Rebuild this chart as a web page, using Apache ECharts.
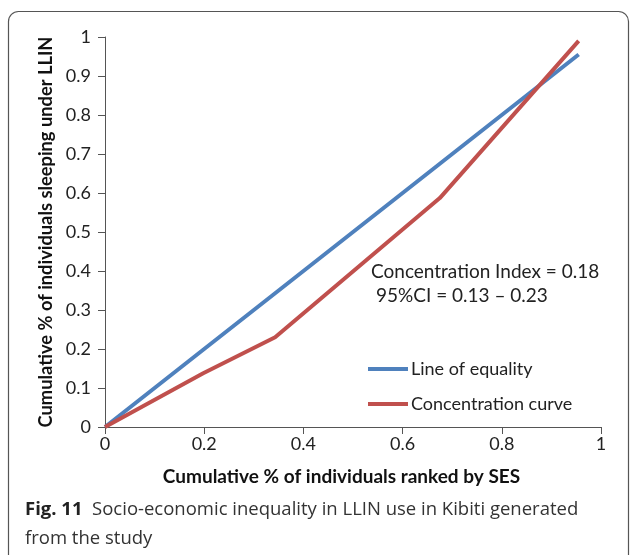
<!DOCTYPE html>
<html><head><meta charset="utf-8">
<script src="https://cdn.jsdelivr.net/npm/echarts@6/dist/echarts.min.js"></script>
<style>html,body{margin:0;padding:0;background:#fff}#c{width:630px;height:555px}</style>
</head><body><div id="c"></div>
<script>
const xShares = [0, 0.198, 0.343, 0.675, 0.955];
const equalityValues = [0, 0.198, 0.343, 0.675, 0.955];
const concentrationValues = [0, 0.138, 0.23, 0.587, 0.99];
const seriesNames = ['Line of equality', 'Concentration curve'];
const xTitle = 'Cumulative % of individuals ranked by SES';
const yTitle = 'Cumulative % of individuals sleeping under LLIN';
const annotation = ['Concentration Index = 0.18', '95%CI = 0.13 \u2013 0.23'];

const F = 'Lato, "Open Sans", sans-serif';
const chart = echarts.init(document.getElementById('c'));
const axisLine = {show: true, lineStyle: {color: '#555', width: 1}};
chart.setOption({
  animation: false,
  grid: {left: 105, right: 29, top: 37, bottom: 128},
  xAxis: {
    type: 'value', min: 0, max: 1, interval: 0.2,
    axisLine, axisTick: {show: true, length: 7, lineStyle: {color: '#555'}},
    splitLine: {show: false},
    axisLabel: {fontFamily: F, fontSize: 18, color: '#222', margin: 8, formatter: v => String(+v.toFixed(1))},
    name: xTitle, nameLocation: 'middle', nameGap: 40,
    nameTextStyle: {fontFamily: F, fontSize: 19, fontWeight: 'bold', color: '#111', padding: [0, 23, 0, 0]}
  },
  yAxis: {
    type: 'value', min: 0, max: 1, interval: 0.1,
    axisLine, axisTick: {show: true, length: 7, lineStyle: {color: '#555'}},
    splitLine: {show: false},
    axisLabel: {fontFamily: F, fontSize: 18, color: '#222', margin: 14, formatter: v => String(+v.toFixed(1))},
    name: yTitle, nameLocation: 'middle', nameGap: 49,
    nameTextStyle: {fontFamily: F, fontSize: 18.3, fontWeight: 'bold', color: '#111'}
  },
  legend: {
    orient: 'vertical', left: 368, top: 360, itemWidth: 40, itemHeight: 4, itemGap: 17,
    icon: 'rect', padding: 0,
    textStyle: {fontFamily: F, fontSize: 18, lineHeight: 18, color: '#222', padding: [0, 0, 0, -2]},
    data: seriesNames
  },
  series: [
    {name: seriesNames[0], type: 'line', data: xShares.map((x, i) => [x, equalityValues[i]]),
     showSymbol: false, lineStyle: {color: '#4F81BD', width: 4}, itemStyle: {color: '#4F81BD'}},
    {name: seriesNames[1], type: 'line', data: xShares.map((x, i) => [x, concentrationValues[i]]),
     showSymbol: false, lineStyle: {color: '#C0504D', width: 4}, itemStyle: {color: '#C0504D'}}
  ],
  graphic: [
    {type: 'rect', shape: {x: 8.5, y: 11.5, width: 620, height: 600, r: 10}, silent: true,
     style: {fill: 'none', stroke: '#555', lineWidth: 1.2}, z: -1},
    {type: 'text', left: 371, top: 262, style: {text: annotation[0], font: '19px ' + F, fill: '#222'}},
    {type: 'text', left: 376, top: 286, style: {text: annotation[1], font: '19px ' + F, fill: '#222'}},
    {type: 'text', left: 25, top: 495, style: {
      text: '{b|Fig. 11}  Socio-economic inequality in LLIN use in Kibiti generated\nfrom the study',
      font: '18.5px "Open Sans", sans-serif', fill: '#333', lineHeight: 29,
      rich: {b: {fontWeight: 'bold', fontSize: 18.5, fontFamily: '"Open Sans", sans-serif', fill: '#222'}}
    }}
  ]
});
</script></body></html>
